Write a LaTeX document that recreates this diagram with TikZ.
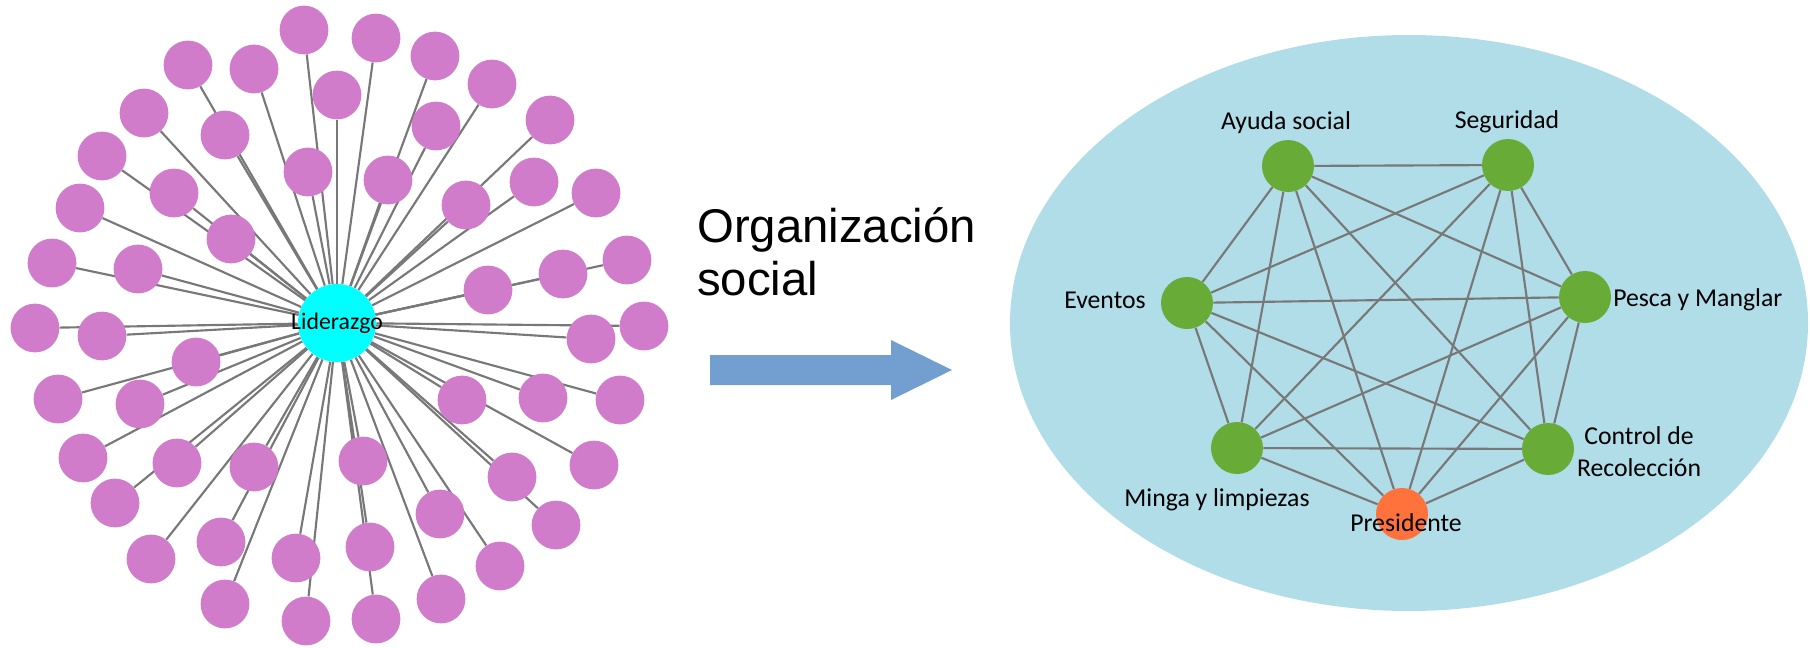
\documentclass[tikz,border=0pt]{standalone}
\usepackage{fontspec}
\setmainfont{Carlito}
\newfontfamily\titlefont{Liberation Sans}
\definecolor{petalpink}{RGB}{208,124,202}
\definecolor{lidcyan}{RGB}{0,255,255}
\definecolor{grupogreen}{RGB}{104,172,55}
\definecolor{presorange}{RGB}{255,114,60}
\definecolor{ovalblue}{RGB}{176,221,232}
\definecolor{arrowblue}{RGB}{114,159,207}
\definecolor{edgegray}{RGB}{120,120,120}
\usetikzlibrary{backgrounds}
\tikzset{
  petal/.style={circle, fill=petalpink, minimum size=36.6pt, inner sep=0pt},
  lider/.style={circle, fill=lidcyan, minimum size=58.5pt, inner sep=0pt},
  grupo/.style={circle, fill=grupogreen, minimum size=39pt, inner sep=0pt},
  link/.style={draw=edgegray, line width=1.6pt},
  lbl/.style={inner sep=0pt, font=\fontsize{19.3}{24}\selectfont},
}

\begin{document}
\begin{tikzpicture}[x=0.75pt, y=-0.75pt]
  \useasboundingbox (0,0) rectangle (1810,647);

  \node [lider, label={[font=\fontsize{17.8}{20}\selectfont]center:Liderazgo}] (lid) at (337,323) {};
  \foreach \x/\y [count=\i] in {304/30, 376/38, 435/56, 188/65, 254/69, 337/95, 492/84,
      144/113, 225/135, 436/126, 550/120, 102/156, 308/172, 388/180, 174/193, 534/182,
      466/205, 596/193, 80/208, 231/239, 627/260, 52/263, 138/269, 563/274, 488/290,
      35/328, 102/336, 644/326, 591/339, 196/362, 58/399, 140/404, 462/400, 543/398,
      620/400, 83/458, 177/463, 254/467, 363/461, 512/477, 594/465, 115/503, 440/514,
      556/525, 221/542, 151/559, 296/558, 370/547, 500/566, 225/604, 306/621, 376/619,
      441/599} {
    \node [petal] (p\i) at (\x,\y) {};
  }

  \node [anchor=base west, align=left, inner sep=0pt,
    font=\titlefont\fontsize{35.5}{39.75}\selectfont] (titulo) at (697,295) {Organización\\social};
  \fill [arrowblue] (710,355) -- (891,355) -- (891,340) -- (952,370) -- (891,400) -- (891,385) -- (710,385) -- cycle;

  \node [grupo] (ayuda) at (1288,166) {};
  \node [grupo] (seg) at (1508,165) {};
  \node [grupo] (pesca) at (1585,297) {};
  \node [grupo] (even) at (1187,303) {};
  \node [grupo] (minga) at (1237,448) {};
  \node [grupo] (ctrl) at (1548,449) {};
  \node [grupo, fill=presorange] (pres) at (1402,514) {};

  \node [lbl, anchor=base] at (1286,129) {Ayuda social};
  \node [lbl, anchor=base] at (1507,128) {Seguridad};
  \node [lbl, anchor=base east] at (1146,308) {Eventos};
  \node [lbl, anchor=base west] at (1613,306) {Pesca y Manglar};
  \node [lbl, align=center] at (1639,452) {Control de\\Recolección};
  \node [lbl, anchor=base] at (1217,506) {Minga y limpiezas};
  \node [lbl, anchor=base] at (1406,531) {Presidente};

  \begin{pgfonlayer}{background}
    \fill [ovalblue] (1409,323) ellipse [x radius=399, y radius=288];
    \foreach \i in {1,...,53} {
      \draw [link] (lid) -- (p\i);
    }
    \foreach \a/\others in {ayuda/{seg,pesca,ctrl,pres,minga,even},
        seg/{pesca,ctrl,pres,minga,even}, pesca/{ctrl,pres,minga,even},
        ctrl/{pres,minga,even}, pres/{minga,even}, minga/{even}} {
      \foreach \b in \others {
        \draw [link] (\a) -- (\b);
      }
    }
  \end{pgfonlayer}
\end{tikzpicture}
\end{document}
